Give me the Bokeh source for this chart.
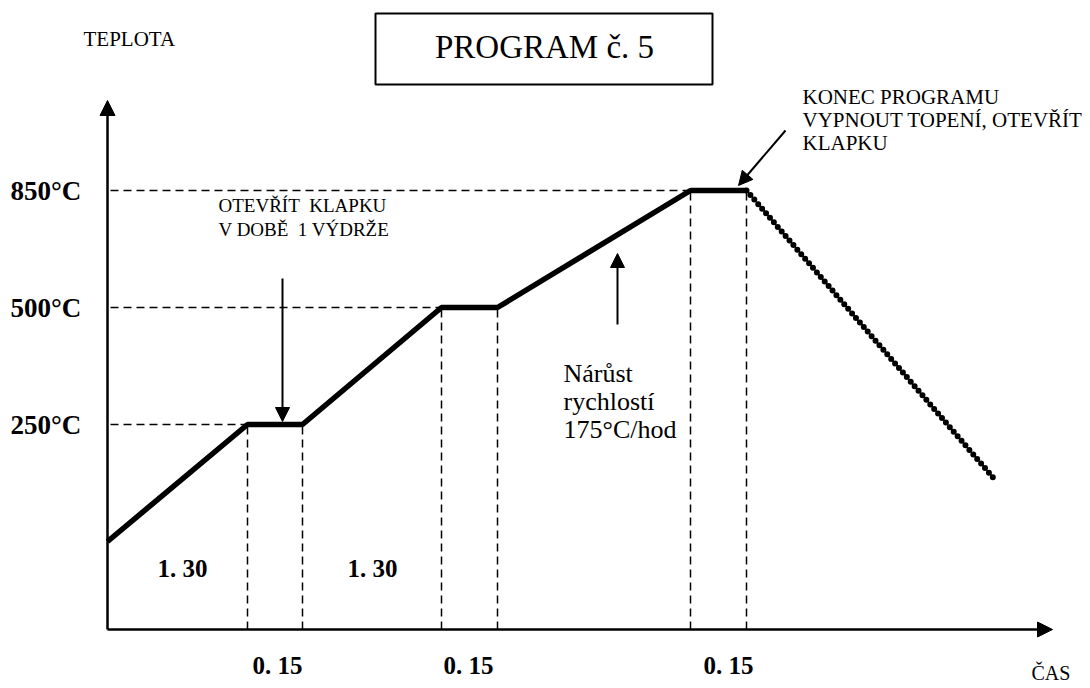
from bokeh.plotting import figure
from bokeh.models import Range1d, Arrow, NormalHead
from bokeh.core.properties import value
from bokeh.embed import file_html
from bokeh.resources import INLINE

# ---- data (schematic diagram units) ----
time_pts = [0.0, 14.0, 19.5, 33.4, 39.0, 58.3, 63.9]
temp_pts = [8.8, 20.5, 20.5, 32.2, 32.2, 43.9, 43.9]
cool_time = [63.9, 88.9]
cool_temp = [43.9, 14.8]

level_values = [20.5, 32.2, 43.9]
level_labels = ["250°C", "500°C", "850°C"]
level_end_time = [14.0, 33.4, 58.3]

hold_start = [14.0, 33.4, 58.3]
hold_end = [19.5, 39.0, 63.9]
hold_temp = [20.5, 32.2, 43.9]
hold_labels = ["0. 15", "0. 15", "0. 15"]
hold_label_x = [17.0, 36.1, 62.1]

ramp_labels = ["1. 30", "1. 30"]
ramp_label_x = [7.5, 26.5]

rate_lines = ["Nárůst", "rychlostí", "175°C/hod"]
flap_lines = ["OTEVŘÍT\u00a0 KLAPKU", "V DOBĚ\u00a0 1 VÝDRŽE"]
end_lines = ["KONEC PROGRAMU", "VYPNOUT TOPENÍ, OTEVŘÍT", "KLAPKU"]
title_text = "PROGRAM č. 5"
y_title = "TEPLOTA"
x_title = "ČAS"

# ---- layout ----
W, H = 1090, 688
OX, OY = 107, 629          # page position of the origin
S = 10.0                   # px per diagram unit

def X(px):
    return (px - OX) / S

def Y(py):
    return (OY - py) / S

SERIF = value("Liberation Serif")

p = figure(width=W, height=H, output_backend="svg", toolbar_location=None,
           x_range=Range1d(X(0), X(W)), y_range=Range1d(Y(H), Y(0)),
           x_axis_type=None, y_axis_type=None, min_border=0)
p.outline_line_color = None
p.background_fill_color = "white"
p.border_fill_color = "white"

# axes with arrows
p.add_layout(Arrow(end=NormalHead(size=15, fill_color="black", line_color="black"),
                   x_start=0, y_start=0, x_end=0, y_end=Y(100),
                   line_width=2.5, line_color="black"))
p.add_layout(Arrow(end=NormalHead(size=15, fill_color="black", line_color="black"),
                   x_start=0, y_start=0, x_end=X(1052), y_end=0,
                   line_width=2.5, line_color="black"))

# dashed guide lines
p.segment(x0=[X(110)] * 3, y0=level_values, x1=level_end_time, y1=level_values,
          line_color="black", line_width=1.5, line_dash="8 5")
p.segment(x0=hold_start, y0=[0] * 3, x1=hold_start, y1=hold_temp,
          line_color="black", line_width=1.5, line_dash="8 5")
p.segment(x0=hold_end, y0=[0] * 3, x1=hold_end, y1=hold_temp,
          line_color="black", line_width=1.5, line_dash="8 5")

# temperature program
p.line(time_pts, temp_pts, line_color="black", line_width=5.5)
p.line(cool_time, cool_temp, line_color="black", line_width=6,
       line_dash="0 6", line_cap="round")

# pointer arrows
p.add_layout(Arrow(end=NormalHead(size=14, fill_color="black", line_color="black"),
                   x_start=X(282), y_start=Y(278), x_end=X(282), y_end=Y(421),
                   line_width=2, line_color="black"))
p.add_layout(Arrow(end=NormalHead(size=14, fill_color="black", line_color="black"),
                   x_start=X(617), y_start=Y(324), x_end=X(617), y_end=Y(253),
                   line_width=2, line_color="black"))
p.add_layout(Arrow(end=NormalHead(size=14, fill_color="black", line_color="black"),
                   x_start=X(785), y_start=Y(130), x_end=X(738), y_end=Y(185),
                   line_width=2, line_color="black"))

# title box
p.quad(left=[X(375)], right=[X(712)], top=[Y(13)], bottom=[Y(84)],
       fill_color="white", line_color="black", line_width=2)
p.text(x=[X(544)], y=[Y(46)], text=[title_text], text_font=SERIF,
       text_font_size="33px", text_align="center", text_baseline="middle", text_color="black")

# axis titles
p.text(x=[X(83)], y=[Y(38)], text=[y_title], text_font=SERIF, text_font_size="21px",
       text_align="left", text_baseline="middle", text_color="black")
p.text(x=[X(1031)], y=[Y(672)], text=[x_title], text_font=SERIF, text_font_size="20px",
       text_align="left", text_baseline="middle", text_color="black")

# level labels
p.text(x=[X(10)] * 3, y=level_values, text=level_labels, text_font=SERIF,
       text_font_size="27px", text_font_style="bold", text_align="left",
       text_baseline="middle", text_color="black")

# duration labels
p.text(x=ramp_label_x, y=[Y(568)] * 2, text=ramp_labels, text_font=SERIF,
       text_font_size="25px", text_font_style="bold", text_align="center",
       text_baseline="middle", text_color="black")
p.text(x=hold_label_x, y=[Y(665)] * 3, text=hold_labels, text_font=SERIF,
       text_font_size="25px", text_font_style="bold", text_align="center",
       text_baseline="middle", text_color="black")

# notes
p.text(x=[X(218)] * 2, y=[Y(205), Y(229)], text=flap_lines, text_font=SERIF,
       text_font_size="19px", text_align="left", text_baseline="middle", text_color="black")
p.text(x=[X(563)] * 3, y=[Y(373), Y(401), Y(429)], text=rate_lines, text_font=SERIF,
       text_font_size="26px", text_align="left", text_baseline="middle", text_color="black")
p.text(x=[X(802)] * 3, y=[Y(96), Y(119), Y(142)], text=end_lines, text_font=SERIF,
       text_font_size="21px", text_align="left", text_baseline="middle", text_color="black")

open("out.html", "w").write(file_html(p, INLINE))
